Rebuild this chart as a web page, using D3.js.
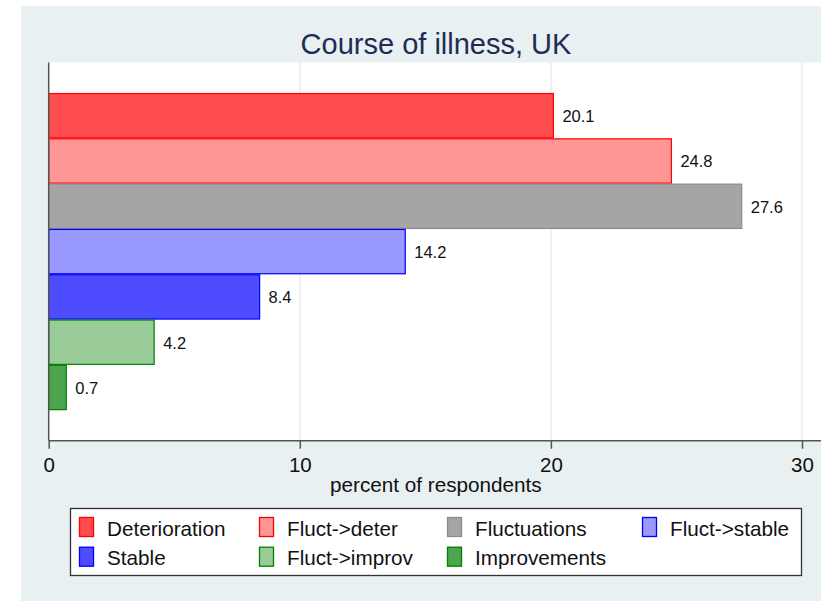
<!DOCTYPE html>
<html>
<head>
<meta charset="utf-8">
<script src="https://cdn.jsdelivr.net/npm/d3@7"></script>
<style>
  body { margin: 0; background: #ffffff; }
  svg text { font-family: "Liberation Sans", Arial, sans-serif; }
</style>
</head>
<body>
<div id="chart"></div>
<script>
"use strict";

// chart data
var categories = ["Deterioration", "Fluct->deter", "Fluctuations", "Fluct->stable",
                  "Stable", "Fluct->improv", "Improvements"];
var values = [20.1, 24.8, 27.6, 14.2, 8.4, 4.2, 0.7];
var fills = ["#ff4d4d", "#ff9696", "#a5a5a5", "#9999ff", "#4d4dff", "#99cc99", "#4da64d"];
var strokes = ["#ff0000", "#ff0000", "#8c8c8c", "#0000ff", "#0000ff", "#008000", "#008000"];
var xTicks = [0, 10, 20, 30];

var width = 821;
var height = 601;
var plot = {left: 48.7, top: 62.5, right: 823, bottom: 440.7};

var svg = d3.select('#chart').append('svg')
  .attr('width', width)
  .attr('height', height);

// outer background
svg.append('rect')
  .attr('x', 21).attr('y', 6)
  .attr('width', width - 21).attr('height', height - 6)
  .attr('fill', '#e8f0f2');

// plot region
svg.append('rect')
  .attr('x', plot.left).attr('y', plot.top)
  .attr('width', plot.right - plot.left).attr('height', plot.bottom - plot.top)
  .attr('fill', '#ffffff');

var x = d3.scaleLinear().domain([0, 30]).range([plot.left, 802]);
var y = d3.scaleBand().domain(categories).range([plot.top, plot.bottom])
  .paddingInner(0).paddingOuter(0.674);

// grid
svg.selectAll('.grid')
  .data(xTicks.filter(function(d) { return d > 0; })).enter()
  .append('line')
  .attr('class', 'grid')
  .attr('x1', function(d) { return x(d); })
  .attr('x2', function(d) { return x(d); })
  .attr('y1', plot.top).attr('y2', plot.bottom)
  .attr('stroke', '#e6edf1')
  .attr('stroke-width', 1.5);

// bars
var rows = categories.map(function(c, i) {
  return {cat: c, val: values[i], fill: fills[i], stroke: strokes[i]};
});

svg.selectAll('.bar')
  .data(rows).enter()
  .append('rect')
  .attr('class', 'bar')
  .attr('x', x(0))
  .attr('y', function(d) { return y(d.cat) + 0.5; })
  .attr('width', function(d) { return x(d.val) - x(0); })
  .attr('height', y.bandwidth() - 1)
  .attr('fill', function(d) { return d.fill; })
  .attr('stroke', function(d) { return d.stroke; })
  .attr('stroke-width', 1.2);

svg.selectAll('.val')
  .data(rows).enter()
  .append('text')
  .attr('class', 'val')
  .attr('x', function(d) { return x(d.val) + 9; })
  .attr('y', function(d) { return y(d.cat) + y.bandwidth() / 2 + 6.5; })
  .attr('font-size', 16.5)
  .attr('fill', '#111')
  .text(function(d) { return d.val.toFixed(1); });

// axes
svg.append('line')
  .attr('x1', plot.left).attr('x2', plot.left)
  .attr('y1', plot.top).attr('y2', plot.bottom)
  .attr('stroke', '#555').attr('stroke-width', 1.5);

var xAxis = d3.axisBottom(x).tickValues(xTicks).tickSize(8).tickSizeOuter(0)
  .tickFormat(d3.format('d'));
var gx = svg.append('g')
  .attr('transform', 'translate(0,' + plot.bottom + ')')
  .call(xAxis);
gx.select('.domain').remove();
gx.append('line')
  .attr('x1', plot.left).attr('x2', width)
  .attr('stroke', '#555').attr('stroke-width', 1.5);
gx.selectAll('.tick line').attr('stroke', '#555').attr('stroke-width', 1.5);
gx.selectAll('.tick text')
  .attr('font-size', 20.5)
  .attr('font-family', '"Liberation Sans", Arial, sans-serif')
  .attr('fill', '#111')
  .attr('dy', null)
  .attr('y', 31.8);

svg.append('text')
  .attr('x', (plot.left + plot.right) / 2)
  .attr('y', 492)
  .attr('text-anchor', 'middle')
  .attr('font-size', 20.7)
  .attr('fill', '#111')
  .text('percent of respondents');

// title
svg.append('text')
  .attr('x', 436)
  .attr('y', 53.5)
  .attr('text-anchor', 'middle')
  .attr('font-size', 29)
  .attr('fill', '#1e2d55')
  .text('Course of illness, UK');

// legend
var legend = svg.append('g');
legend.append('rect')
  .attr('x', 70.5).attr('y', 508.5)
  .attr('width', 731).attr('height', 67)
  .attr('fill', '#ffffff')
  .attr('stroke', '#333')
  .attr('stroke-width', 1.3);

var colX = [79, 259, 447, 642];
var rowY = [517, 546.7];
var items = legend.selectAll('.item')
  .data(rows).enter()
  .append('g')
  .attr('class', 'item')
  .attr('transform', function(d, i) {
    return 'translate(' + colX[i % 4] + ',' + rowY[Math.floor(i / 4)] + ')';
  });
items.append('rect')
  .attr('x', 0.5).attr('y', 0.5)
  .attr('width', 14).attr('height', 19)
  .attr('fill', function(d) { return d.fill; })
  .attr('stroke', function(d) { return d.stroke; })
  .attr('stroke-width', 1.3);
items.append('text')
  .attr('x', 28)
  .attr('y', 18.5)
  .attr('font-size', 20.7)
  .attr('fill', '#111')
  .text(function(d) { return d.cat; });
</script>
</body>
</html>
